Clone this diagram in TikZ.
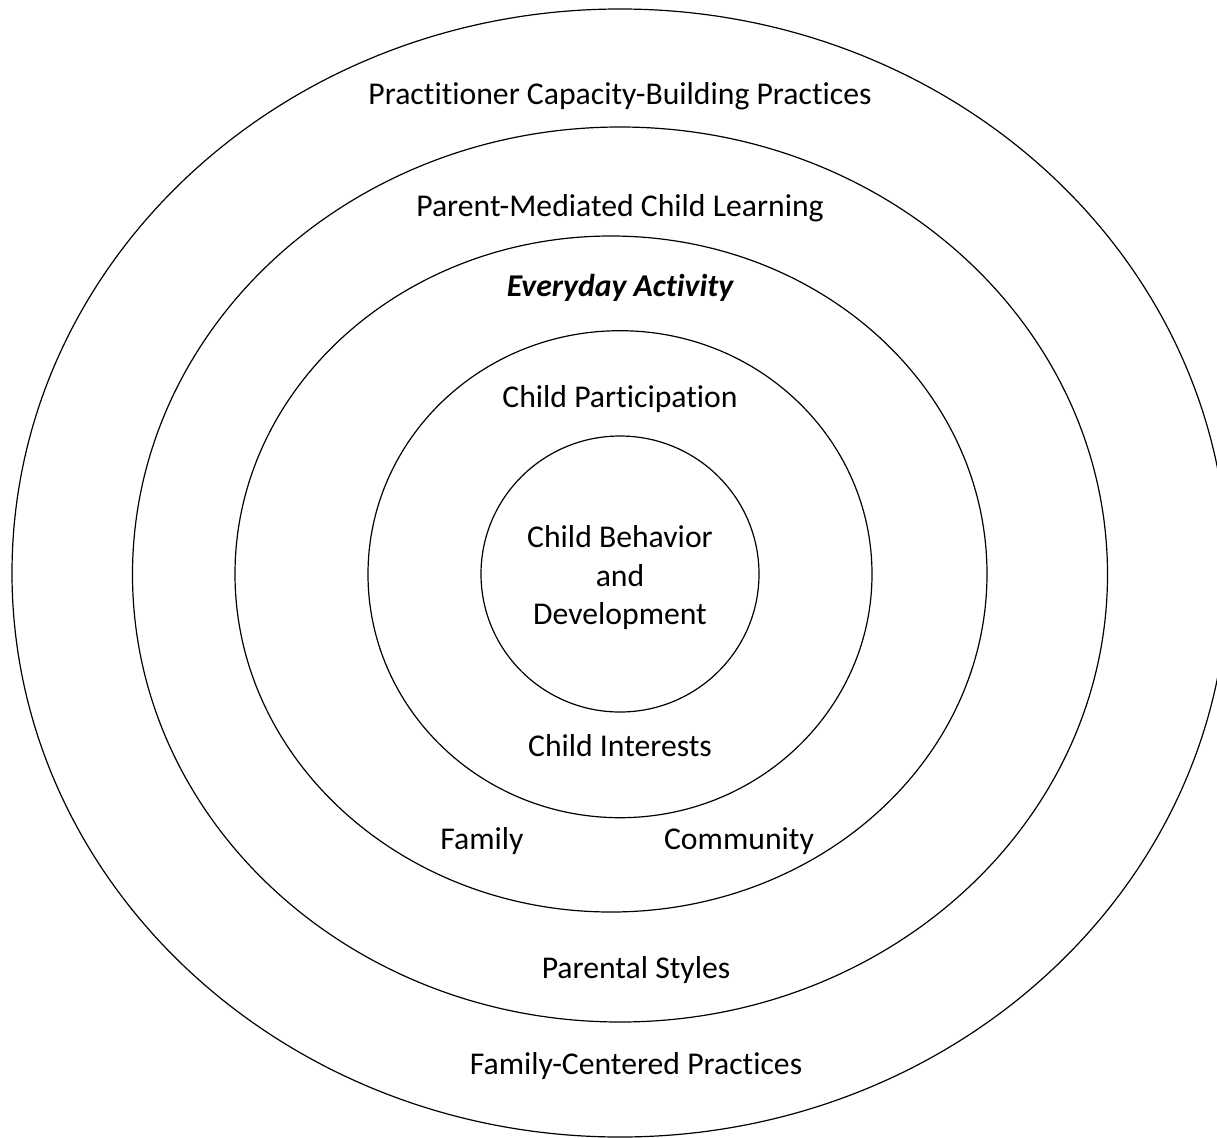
\documentclass[tikz,border=0pt]{standalone}
\usepackage{fontspec}
\setmainfont[Ligatures=NoCommon]{Carlito}
\begin{document}
\begin{tikzpicture}[x=1pt,y=-1pt,
  ring/.style={draw=black,line width=1.2pt},
  lbl/.style={font=\fontsize{31.7}{38.5}\selectfont,align=center,inner sep=0pt}]
\useasboundingbox (0,0) rectangle (1217,1137);
\fill[white] (0,0) rectangle (1217,1137);
\begin{scope}
\clip (0,0) rectangle (1217,1137);
\draw[ring] (620,573) ellipse [x radius=608pt, y radius=564pt];
\draw[ring] (620,574.5) ellipse [x radius=487.5pt, y radius=447.5pt];
\draw[ring] (611,574) ellipse [x radius=376pt, y radius=338pt];
\draw[ring] (620,574.2) ellipse [x radius=252pt, y radius=243.5pt];
\draw[ring] (620,574) ellipse [x radius=139pt, y radius=138pt];
\end{scope}
\node[lbl] (pcb) at (620,96) {Practitioner Capacity-Building Practices};
\node[lbl] (pmc) at (620,208) {Parent-Mediated Child Learning};
\node[lbl,font=\fontsize{31.7}{38.5}\selectfont\bfseries\itshape] (eda) at (620,288) {Everyday Activity};
\node[lbl] (cp) at (620,399) {Child Participation};
\node[lbl] (cbd) at (620,578) {Child Behavior\\and\\Development};
\node[lbl] (ci) at (620,746) {Child Interests};
\node[lbl] (fam) at (482,841) {Family};
\node[lbl] (com) at (739,841) {Community};
\node[lbl] (ps) at (636,970) {Parental Styles};
\node[lbl] (fcp) at (636,1066) {Family-Centered Practices};
\end{tikzpicture}
\end{document}
